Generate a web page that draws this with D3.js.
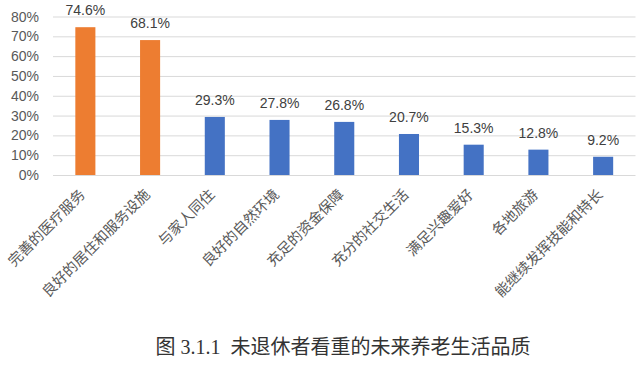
<!DOCTYPE html>
<html>
<head>
<meta charset="utf-8">
<title>未退休者看重的未来养老生活品质</title>
<script src="https://d3js.org/d3.v7.min.js"></script>
<style>
  body { margin: 0; background: #fff; }
</style>
</head>
<body>
<script>
// data
var categories = ["完善的医疗服务", "良好的居住和服务设施", "与家人同住", "良好的自然环境",
                  "充足的资金保障", "充分的社交生活", "满足兴趣爱好", "各地旅游", "能继续发挥技能和特长"]
var values = [74.6, 68.1, 29.3, 27.8, 26.8, 20.7, 15.3, 12.8, 9.2]
var highlighted = [true, true, false, false, false, false, false, false, false]
var yTicks = [0, 10, 20, 30, 40, 50, 60, 70, 80]
var title = "图 3.1.1  未退休者看重的未来养老生活品质"

var width = 641, height = 365
var svg = d3.select("body").append("svg")
    .attr("width", width)
    .attr("height", height)

var x = d3.scaleBand().domain(categories).range([53, 635.5]).paddingInner(0.69).paddingOuter(0.345)
var y = d3.scaleLinear().domain([0, 80]).range([175, 16.5])

// gridlines
svg.append("g").selectAll("line")
    .data(yTicks)
    .join("line")
    .attr("x1", 53).attr("x2", 635.5)
    .attr("y1", d => y(d) + 0.5).attr("y2", d => y(d) + 0.5)
    .attr("stroke", "#d9d9d9")
    .attr("stroke-width", 1)

// y tick labels
svg.append("g").selectAll("text")
    .data(yTicks)
    .join("text")
    .attr("x", 39).attr("y", d => y(d))
    .attr("dy", "0.36em")
    .attr("text-anchor", "end")
    .attr("font-family", "Liberation Sans, Arial, sans-serif")
    .attr("font-size", 14)
    .attr("fill", "#595959")
    .text(d => d + "%")

// bars
svg.append("g").selectAll("rect")
    .data(values)
    .join("rect")
    .attr("x", (d, i) => x(categories[i]))
    .attr("width", x.bandwidth())
    .attr("y", d => y(d))
    .attr("height", d => y(0) - y(d))
    .attr("fill", (d, i) => highlighted[i] ? "#ed7d31" : "#4472c4")

// value labels
svg.append("g").selectAll("text")
    .data(values)
    .join("text")
    .attr("x", (d, i) => x(categories[i]) + x.bandwidth() / 2)
    .attr("y", d => y(d) - 12)
    .attr("text-anchor", "middle")
    .attr("font-family", "Liberation Sans, Arial, sans-serif")
    .attr("font-size", 14)
    .attr("fill", "#404040")
    .text(d => d.toFixed(1) + "%")

// category labels, rotated
svg.append("g").selectAll("text")
    .data(categories)
    .join("text")
    .attr("transform", d => "translate(" + (x(d) + x.bandwidth() / 2 - 3) + "," + 192 + ") rotate(-45)")
    .attr("text-anchor", "end")
    .attr("dy", "0.35em")
    .attr("font-family", "Noto Sans CJK SC, sans-serif")
    .attr("font-size", 14.5)
    .attr("fill", "#595959")
    .text(d => d)

// caption
svg.append("text")
    .attr("x", 343).attr("y", 354)
    .attr("text-anchor", "middle")
    .attr("font-family", "Liberation Serif, Noto Sans CJK SC, serif")
    .attr("font-size", 20)
    .attr("fill", "#333")
    .style("white-space", "pre")
    .text(title)
</script>
</body>
</html>
